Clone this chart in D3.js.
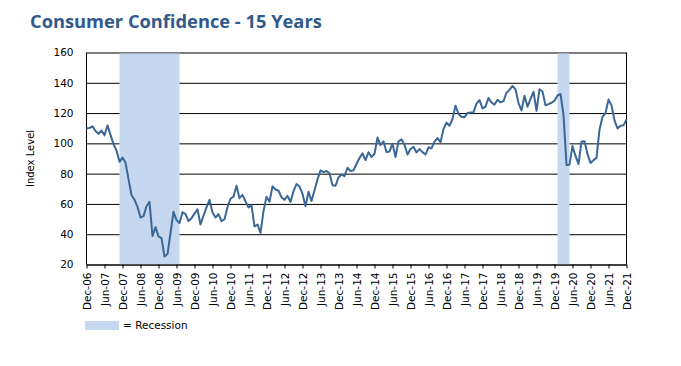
<!DOCTYPE html>
<html>
<head>
<meta charset="utf-8">
<script src="https://cdn.jsdelivr.net/npm/d3@7"></script>
<style>
  html, body { margin: 0; padding: 0; background: #fff; }
  svg { display: block; }
</style>
</head>
<body>
<svg id="chart" width="681" height="366"></svg>
<script>
// ---- DATA ----
const title = "Consumer Confidence - 15 Years";
const yAxisTitle = "Index Level";
const legendLabel = "= Recession";
const firstMonth = [2006, 12]; // Dec-06, monthly series
// Index level, monthly Dec-06 .. Dec-21
const confidence = [
  110.0,
  110.2, 111.2, 108.2, 106.3, 108.5, 105.3, 111.9, 105.6, 99.5, 95.2, 87.8, 90.6,
  87.3, 76.4, 65.9, 62.8, 58.1, 51.0, 51.9, 58.5, 61.4, 38.8, 44.7, 38.6,
  37.4, 25.3, 26.9, 40.8, 54.8, 49.3, 47.4, 54.5, 53.4, 48.7, 50.6, 53.6,
  56.5, 46.4, 52.3, 57.7, 62.7, 54.3, 51.0, 53.2, 48.6, 49.9, 57.8, 63.4,
  64.8, 72.0, 63.8, 66.0, 61.7, 57.6, 59.2, 45.2, 46.4, 40.9, 55.2, 64.8,
  61.5, 71.6, 69.5, 68.7, 64.4, 62.7, 65.4, 61.3, 68.4, 73.1, 71.5, 66.7,
  58.4, 68.0, 61.9, 69.0, 76.2, 82.1, 81.0, 81.8, 80.2, 72.4, 72.0, 77.5,
  79.4, 78.3, 83.9, 81.7, 82.2, 86.4, 90.3, 93.4, 89.0, 94.1, 91.0, 93.1,
  103.8, 98.8, 101.4, 94.3, 94.6, 99.8, 91.0, 101.3, 102.6, 99.1, 92.6, 96.3,
  97.8, 94.0, 96.2, 94.2, 92.6, 97.4, 96.7, 101.1, 103.5, 100.8, 109.4, 113.7,
  111.6, 116.1, 124.9, 119.4, 117.6, 117.3, 120.0, 120.4, 120.6, 126.2, 128.6, 123.1,
  124.3, 130.0, 127.0, 125.6, 128.8, 127.1, 127.9, 133.4, 135.3, 137.9, 135.7, 126.6,
  121.7, 131.4, 124.2, 129.2, 134.1, 121.5, 135.7, 134.2, 125.1, 125.9, 126.8, 128.2,
  131.6, 132.6, 118.8, 85.7, 85.9, 98.3, 91.7, 86.3, 101.3, 101.4, 92.9, 87.1,
  88.9, 90.4, 109.0, 117.5, 120.0, 128.9, 125.1, 115.2, 109.8, 111.6, 111.9, 115.8
];
// Recession shading, as month offsets from Dec-06 (Nov-07..Jul-09, Jan-20..May-20)
const recessionStart = [11, 157];
const recessionEnd   = [31, 161];
// X tick labels every 6 months
const xTickLabels = [
  "Dec-06","Jun-07","Dec-07","Jun-08","Dec-08","Jun-09","Dec-09","Jun-10","Dec-10","Jun-11",
  "Dec-11","Jun-12","Dec-12","Jun-13","Dec-13","Jun-14","Dec-14","Jun-15","Dec-15","Jun-16",
  "Dec-16","Jun-17","Dec-17","Jun-18","Dec-18","Jun-19","Dec-19","Jun-20","Dec-20","Jun-21","Dec-21"
];
const yTicks = [20, 40, 60, 80, 100, 120, 140, 160];

// ---- CHART ----
const svg = d3.select("#chart");
const L = 86.5, R = 626.5, T = 52.5, B = 264.5;
const blue = "#3b6797";
const band = "#c6d8ef";
const font = "'DejaVu Sans', Verdana, sans-serif";

const x = d3.scaleLinear().domain([0, confidence.length - 1]).range([L, R]);
const y = d3.scaleLinear().domain([20, 160]).range([B, T]);

// title
svg.append("text")
  .attr("x", 30).attr("y", 28)
  .attr("font-family", "'Open Sans', Lato, sans-serif")
  .attr("font-weight", 700)
  .attr("font-size", 18.3)
  .attr("fill", "#31598a")
  .text(title);

// gridlines
const yAxis = d3.axisLeft(y).tickValues(yTicks).tickSize(-(R - L)).tickPadding(13);
const gy = svg.append("g").attr("transform", `translate(${L},0)`).call(yAxis);
gy.select(".domain").remove();
gy.selectAll(".tick line").attr("stroke", "#000").attr("stroke-width", 1);
gy.selectAll(".tick text")
  .attr("font-family", font).attr("font-size", 10.5).attr("fill", "#000");

// recession bands
const rec = recessionStart.map((s, i) => ({ s, e: recessionEnd[i] }));
svg.append("g").selectAll("rect").data(rec).join("rect")
  .attr("x", d => x(d.s))
  .attr("width", d => x(d.e) - x(d.s))
  .attr("y", T + 1)
  .attr("height", B - T - 1)
  .attr("fill", band);

// right border + left axis line
svg.append("line").attr("x1", R).attr("x2", R).attr("y1", T).attr("y2", B)
  .attr("stroke", "#000");
svg.append("line").attr("x1", L).attr("x2", L).attr("y1", T).attr("y2", B)
  .attr("stroke", "#000");

// x axis
const xTickIdx = xTickLabels.map((_, i) => i * 6);
const xAxis = d3.axisBottom(x).tickValues(xTickIdx)
  .tickFormat((d, i) => xTickLabels[i]).tickSize(4).tickSizeOuter(0).tickPadding(4);
const gx = svg.append("g").attr("transform", `translate(0,${B})`).call(xAxis);
gx.select(".domain").attr("stroke", "#000");
gx.selectAll(".tick line").attr("stroke", "#000");
gx.selectAll(".tick text")
  .attr("font-family", font).attr("font-size", 10.5).attr("fill", "#000")
  .attr("text-anchor", "end")
  .attr("transform", "rotate(-90)")
  .attr("x", -8).attr("y", 0).attr("dy", "0.35em");

// line
const line = d3.line().x((d, i) => x(i)).y(d => y(d));
svg.append("path").datum(confidence)
  .attr("d", line)
  .attr("fill", "none")
  .attr("stroke", blue)
  .attr("stroke-width", 2)
  .attr("stroke-linejoin", "round");

// y axis title
svg.append("text")
  .attr("transform", `translate(34,${(T + B) / 2}) rotate(-90)`)
  .attr("text-anchor", "middle")
  .attr("font-family", font).attr("font-size", 10).attr("fill", "#000")
  .text(yAxisTitle);

// legend
svg.append("rect").attr("x", 85).attr("y", 321).attr("width", 34).attr("height", 9)
  .attr("fill", band);
svg.append("text").attr("x", 123).attr("y", 329)
  .attr("font-family", font).attr("font-size", 10.5).attr("fill", "#000")
  .text(legendLabel);
</script>
</body>
</html>
